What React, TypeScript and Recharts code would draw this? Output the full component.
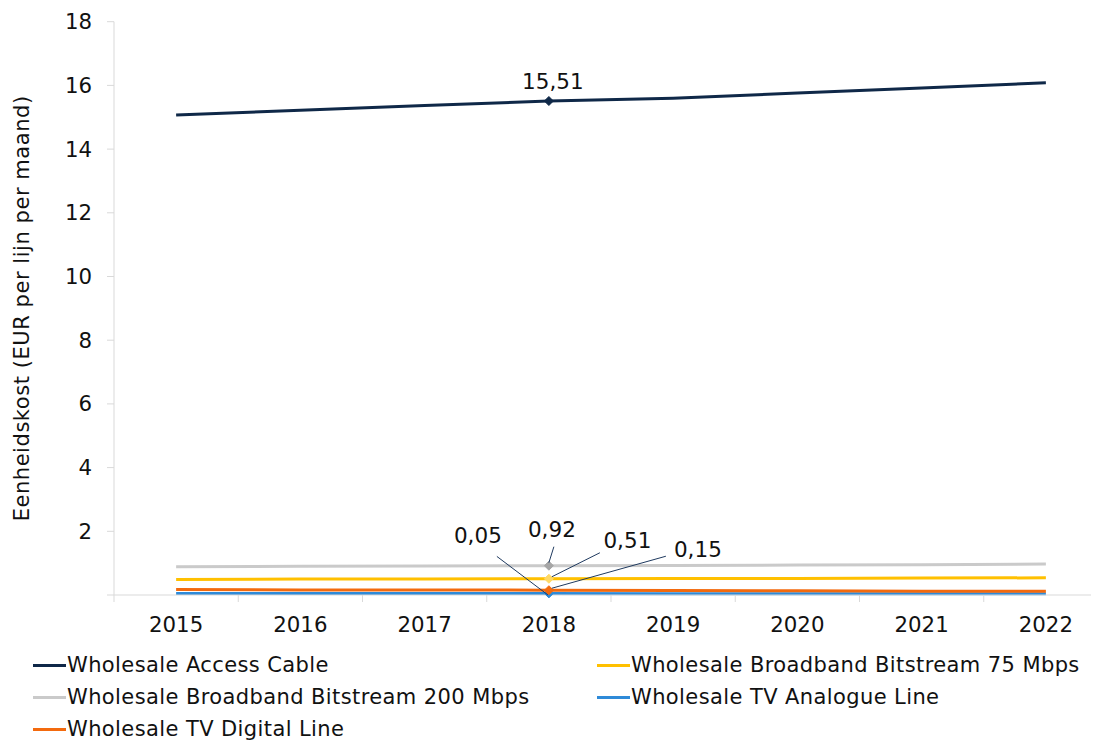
import React from 'react';
import { LineChart, Line, XAxis, YAxis, LabelList } from 'recharts';

const years = [2015, 2016, 2017, 2018, 2019, 2020, 2021, 2022];
const accessCable = [15.07, 15.22, 15.37, 15.51, 15.6, 15.76, 15.92, 16.08];
const bitstream75 = [0.49, 0.5, 0.5, 0.51, 0.52, 0.52, 0.53, 0.54];
const bitstream200 = [0.89, 0.9, 0.91, 0.92, 0.93, 0.94, 0.95, 0.97];
const tvAnalogue = [0.05, 0.05, 0.05, 0.05, 0.04, 0.04, 0.04, 0.04];
const tvDigital = [0.17, 0.16, 0.16, 0.15, 0.14, 0.13, 0.12, 0.12];

const seriesNames = [
  'Wholesale Access Cable',
  'Wholesale Broadband Bitstream 75 Mbps',
  'Wholesale Broadband Bitstream 200 Mbps',
  'Wholesale TV Analogue Line',
  'Wholesale TV Digital Line',
];
const yTicks = [0, 2, 4, 6, 8, 10, 12, 14, 16, 18];
const xTicks = [2014.5, 2015, 2015.5, 2016, 2016.5, 2017, 2017.5, 2018, 2018.5, 2019, 2019.5, 2020, 2020.5, 2021, 2021.5, 2022, 2022.5];
const yTitle = 'Eenheidskost (EUR per lijn per maand)';
const labelledIndex = 3;

const data = years.map((year, i) => ({
  year,
  access: accessCable[i],
  bb75: bitstream75[i],
  bb200: bitstream200[i],
  analogue: tvAnalogue[i],
  digital: tvDigital[i],
}));

const FONT = '"DejaVu Sans", Verdana, sans-serif';
const AXIS_COLOR = '#D9D9D9';
const TEXT_COLOR = '#111111';
const LEADER_COLOR = '#1F3A5F';

type Cfg = {
  key: string;
  name: string;
  color: string;
  marker: string;
  width: number;
  label: { tx: number; ty: number; leader?: [number, number, number, number] };
};

const series: Cfg[] = [
  { key: 'access', name: seriesNames[0], color: '#0F2848', marker: '#0F2848', width: 3, label: { tx: 4, ty: -19.5 } },
  { key: 'bb75', name: seriesNames[1], color: '#FFC000', marker: '#FFD966', width: 3, label: { tx: 78.5, ty: -39, leader: [51, -26, 3, -2] } },
  { key: 'bb200', name: seriesNames[2], color: '#CACACA', marker: '#A6A6A6', width: 3, label: { tx: 3, ty: -36, leader: [5, -19, 0, -3] } },
  { key: 'analogue', name: seriesNames[3], color: '#2E8AD8', marker: '#2E8AD8', width: 3, label: { tx: -71, ty: -58, leader: [-52, -37, -1, 1.5] } },
  { key: 'digital', name: seriesNames[4], color: '#F36A0E', marker: '#F36A0E', width: 3, label: { tx: 149, ty: -41, leader: [117, -34, 3, -2] } },
];

const makeDot = (s: Cfg) => (props: any) => {
  const { cx, cy, index } = props;
  if (index !== labelledIndex || cx == null || cy == null) return <g key={`d-${s.key}-${index}`} />;
  const r = 4.5;
  return (
    <path
      key={`d-${s.key}-${index}`}
      d={`M${cx},${cy - r}L${cx + r},${cy}L${cx},${cy + r}L${cx - r},${cy}Z`}
      fill={s.marker}
      stroke={s.marker}
      strokeWidth={1}
    />
  );
};

const makeLabel = (s: Cfg) => (props: any) => {
  const { x, y, value, index } = props;
  if (index !== labelledIndex) return null;
  const l = s.label;
  return (
    <g>
      {l.leader && (
        <line
          x1={x + l.leader[0]}
          y1={y + l.leader[1]}
          x2={x + l.leader[2]}
          y2={y + l.leader[3]}
          stroke={LEADER_COLOR}
          strokeWidth={1}
        />
      )}
      <text
        x={x + l.tx}
        y={y + l.ty + 7.8}
        textAnchor="middle"
        fontFamily={FONT}
        fontSize={21.5}
        fill={TEXT_COLOR}
      >
        {Number(value).toFixed(2).replace('.', ',')}
      </text>
    </g>
  );
};

const XTick = (props: any) => {
  const { x, y, payload } = props;
  const v = payload.value;
  if (Number.isInteger(v)) {
    return (
      <text x={x} y={y + 36.5} textAnchor="middle" fontFamily={FONT} fontSize={21.3} fill={TEXT_COLOR}>
        {v}
      </text>
    );
  }
  return <line x1={x} y1={y} x2={x} y2={y + 7} stroke={AXIS_COLOR} strokeWidth={1} />;
};

const renderYTitle = (props: any) => {
  const vb = props.viewBox || {};
  const cx = (vb.x ?? 0) + 14;
  const cy = (vb.y ?? 0) + (vb.height ?? 0) / 2;
  return (
    <text
      x={cx}
      y={cy}
      transform={`rotate(-90, ${cx}, ${cy})`}
      textAnchor="middle"
      dominantBaseline="central"
      fontFamily={FONT}
      fontSize={21}
      letterSpacing={0.55}
      fill={TEXT_COLOR}
    >
      {yTitle}
    </text>
  );
};

export default function App() {
  return (
    <div style={{ position: 'relative', width: 1091, height: 735, overflow: 'hidden', fontFamily: FONT }}>
      <LineChart
        width={1110}
        height={640}
        data={data}
        margin={{ top: 13.7, right: 10, bottom: 13, left: 0 }}
      >
        <XAxis
          dataKey="year"
          type="number"
          domain={[2014.5, 2022.5]}
          ticks={xTicks}
          interval={0}
          height={40}
          tickSize={0}
          tickMargin={0}
          tickLine={false}
          axisLine={{ stroke: AXIS_COLOR, strokeWidth: 1 }}
          tick={<XTick />}
        />
        <YAxis
          type="number"
          domain={[0, 18]}
          ticks={yTicks}
          interval={0}
          width={106}
          tickSize={7}
          tickMargin={15}
          axisLine={{ stroke: AXIS_COLOR, strokeWidth: 1 }}
          tickLine={{ stroke: AXIS_COLOR, strokeWidth: 1 }}
          tick={{ fontFamily: FONT, fontSize: 21.3, fill: TEXT_COLOR }}
          tickFormatter={(v: number) => (v === 0 ? '' : String(v))}
          label={renderYTitle}
        />
        {series.map((s) => (
          <Line
            key={s.key}
            type="linear"
            dataKey={s.key}
            name={s.name}
            stroke={s.color}
            strokeWidth={s.width}
            dot={makeDot(s)}
            activeDot={false}
            isAnimationActive={false}
          >
            <LabelList dataKey={s.key} content={makeLabel(s)} />
          </Line>
        ))}
      </LineChart>
      <div
        style={{
          position: 'absolute',
          left: 0,
          top: 641,
          width: 1091,
          display: 'grid',
          gridTemplateColumns: '564px 527px',
          fontSize: 21,
          letterSpacing: '0.4px',
          lineHeight: '32px',
          color: TEXT_COLOR,
          fontFamily: FONT,
        }}
      >
        {series.map((s) => (
          <div key={s.key} style={{ display: 'flex', alignItems: 'center', height: 32, paddingLeft: 25, whiteSpace: 'nowrap' }}>
            <div style={{ width: 33, height: 3, background: s.color, marginRight: 1 }} />
            <span>{s.name}</span>
          </div>
        ))}
      </div>
    </div>
  );
}
